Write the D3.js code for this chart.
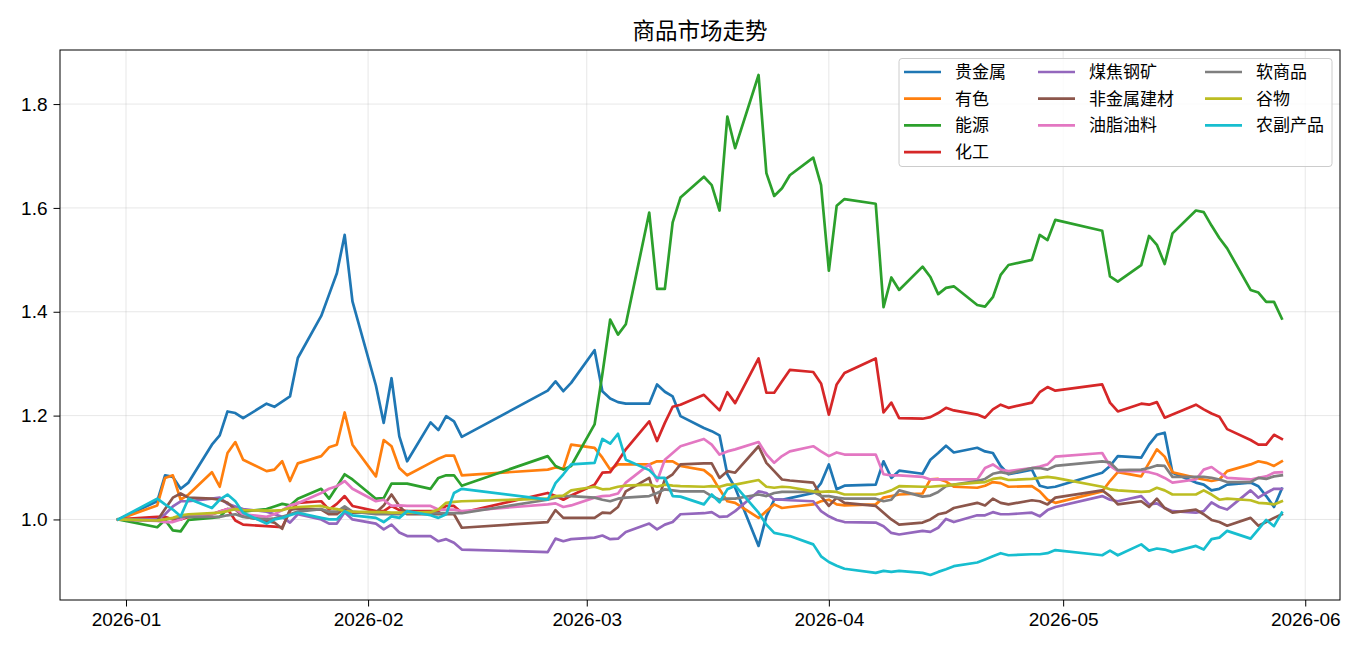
<!DOCTYPE html>
<html>
<head>
<meta charset="utf-8">
<script src="https://cdn.jsdelivr.net/npm/d3@7/dist/d3.min.js"></script>
<style>
    body { margin: 0; background: #ffffff; }
    svg { font-family: "Noto Sans CJK SC", "DejaVu Sans", sans-serif; }
</style>
</head>
<body>
<svg id="market_chart" width="1368" height="657"></svg>
<script>
// trading days
const dates = [
    '2025-12-31',
    '2026-01-05', '2026-01-06', '2026-01-07', '2026-01-08', '2026-01-09',
    '2026-01-12', '2026-01-13', '2026-01-14', '2026-01-15', '2026-01-16',
    '2026-01-19', '2026-01-20', '2026-01-21', '2026-01-22', '2026-01-23',
    '2026-01-26', '2026-01-27', '2026-01-28', '2026-01-29', '2026-01-30',
    '2026-02-02', '2026-02-03', '2026-02-04', '2026-02-05', '2026-02-06',
    '2026-02-09', '2026-02-10', '2026-02-11', '2026-02-12', '2026-02-13',
    '2026-02-24', '2026-02-25', '2026-02-26', '2026-02-27',
    '2026-03-02', '2026-03-03', '2026-03-04', '2026-03-05', '2026-03-06',
    '2026-03-09', '2026-03-10', '2026-03-11', '2026-03-12', '2026-03-13',
    '2026-03-16', '2026-03-17', '2026-03-18', '2026-03-19', '2026-03-20',
    '2026-03-23', '2026-03-24', '2026-03-25', '2026-03-26', '2026-03-27',
    '2026-03-30', '2026-03-31', '2026-04-01', '2026-04-02', '2026-04-03',
    '2026-04-07', '2026-04-08', '2026-04-09', '2026-04-10',
    '2026-04-13', '2026-04-14', '2026-04-15', '2026-04-16', '2026-04-17',
    '2026-04-20', '2026-04-21', '2026-04-22', '2026-04-23', '2026-04-24',
    '2026-04-27', '2026-04-28', '2026-04-29', '2026-04-30',
    '2026-05-06', '2026-05-07', '2026-05-08',
    '2026-05-11', '2026-05-12', '2026-05-13', '2026-05-14', '2026-05-15',
    '2026-05-18', '2026-05-19', '2026-05-20', '2026-05-21', '2026-05-22',
    '2026-05-25', '2026-05-26', '2026-05-27', '2026-05-28', '2026-05-29'
];

// 贵金属
const precious_metals = [
    1.000,
    1.035, 1.085, 1.082, 1.059, 1.071,
    1.144, 1.162, 1.208, 1.205, 1.195,
    1.223, 1.217, 1.227, 1.237, 1.311,
    1.392, 1.433, 1.474, 1.548, 1.420,
    1.258, 1.186, 1.272, 1.160, 1.112,
    1.187, 1.172, 1.199, 1.189, 1.159,
    1.248, 1.266, 1.247, 1.263,
    1.326, 1.247, 1.233, 1.226, 1.223,
    1.223, 1.260, 1.246, 1.237, 1.199,
    1.176, 1.170, 1.162, 1.087, 1.061,
    0.949, 1.006, 1.038, 1.038, 1.041,
    1.051, 1.070, 1.106, 1.058, 1.065,
    1.067, 1.112, 1.080, 1.094,
    1.088, 1.115, 1.128, 1.142, 1.129,
    1.138, 1.131, 1.128, 1.103, 1.087,
    1.096, 1.065, 1.061, 1.063,
    1.090, 1.103, 1.122,
    1.119, 1.144, 1.163, 1.167, 1.090,
    1.071, 1.067, 1.056, 1.059, 1.067,
    1.071, 1.064, 1.045, 1.024, 1.059
];

// 有色
const base_metals = [
    1.000,
    1.027, 1.080, 1.085, 1.038, 1.048,
    1.091, 1.063, 1.128, 1.149, 1.115,
    1.093, 1.096, 1.112, 1.074, 1.108,
    1.122, 1.139, 1.144, 1.206, 1.144,
    1.083, 1.153, 1.141, 1.099, 1.085,
    1.109, 1.117, 1.123, 1.123, 1.085,
    1.096, 1.100, 1.098, 1.144,
    1.138, 1.119, 1.096, 1.106, 1.106,
    1.106, 1.112, 1.112, 1.112, 1.103,
    1.095, 1.083, 1.058, 1.035, 1.032,
    1.003, 1.016, 1.029, 1.022, 1.024,
    1.029, 1.035, 1.038, 1.029, 1.027,
    1.029, 1.042, 1.045, 1.048,
    1.050, 1.077, 1.078, 1.073, 1.063,
    1.061, 1.065, 1.072, 1.070, 1.063,
    1.064, 1.054, 1.038, 1.032,
    1.054, 1.074, 1.091,
    1.083, 1.109, 1.135, 1.121, 1.091,
    1.080, 1.077, 1.074, 1.077, 1.093,
    1.106, 1.112, 1.109, 1.103, 1.112
];

// 能源
const energy = [
    1.000,
    0.985, 0.999, 0.979, 0.977, 0.999,
    1.003, 1.005, 1.020, 1.020, 1.015,
    1.020, 1.025, 1.030, 1.027, 1.040,
    1.059, 1.040, 1.063, 1.087, 1.077,
    1.040, 1.041, 1.069, 1.069, 1.069,
    1.059, 1.080, 1.085, 1.085, 1.065,
    1.122, 1.103, 1.096, 1.103,
    1.183, 1.280, 1.385, 1.356, 1.376,
    1.591, 1.444, 1.444, 1.572, 1.620,
    1.660, 1.644, 1.595, 1.776, 1.715,
    1.856, 1.667, 1.623, 1.638, 1.663,
    1.697, 1.644, 1.479, 1.604, 1.617,
    1.608, 1.409, 1.466, 1.442,
    1.487, 1.467, 1.434, 1.446, 1.449,
    1.413, 1.410, 1.428, 1.471, 1.490,
    1.500, 1.548, 1.538, 1.577,
    1.556, 1.468, 1.458,
    1.490, 1.546, 1.529, 1.492, 1.551,
    1.595, 1.592, 1.566, 1.542, 1.522,
    1.442, 1.437, 1.419, 1.419, 1.387
];

// 化工
const chemicals = [
    1.000,
    1.005, 1.005, 1.000, 1.000, 1.005,
    1.010, 1.015, 1.020, 0.998, 0.990,
    0.987, 0.986, 0.985, 1.016, 1.032,
    1.035, 1.019, 1.030, 1.045, 1.026,
    1.016, 1.016, 1.026, 1.018, 1.016,
    1.016, 1.016, 1.026, 1.026, 1.013,
    1.051, 1.045, 1.038, 1.046,
    1.067, 1.090, 1.091, 1.112, 1.135,
    1.189, 1.151, 1.186, 1.217, 1.221,
    1.240, 1.225, 1.210, 1.245, 1.224,
    1.310, 1.244, 1.244, 1.266, 1.288,
    1.284, 1.262, 1.202, 1.260, 1.282,
    1.310, 1.206, 1.225, 1.195,
    1.194, 1.197, 1.205, 1.215, 1.210,
    1.202, 1.196, 1.212, 1.221, 1.215,
    1.225, 1.245, 1.255, 1.248,
    1.260, 1.225, 1.208,
    1.223, 1.221, 1.226, 1.196, 1.202,
    1.221, 1.212, 1.204, 1.198, 1.174,
    1.153, 1.144, 1.144, 1.163, 1.155
];

// 煤焦钢矿
const ferrous = [
    1.000,
    1.000, 1.010, 1.025, 1.035, 1.035,
    1.040, 1.042, 1.030, 1.025, 1.020,
    1.015, 1.010, 1.005, 0.994, 1.010,
    1.000, 0.992, 0.992, 1.014, 1.000,
    0.992, 0.981, 0.990, 0.975, 0.968,
    0.968, 0.958, 0.962, 0.955, 0.942,
    0.937, 0.963, 0.958, 0.962,
    0.965, 0.969, 0.962, 0.963, 0.976,
    0.992, 0.981, 0.990, 0.995, 1.010,
    1.012, 1.014, 1.005, 1.006, 1.016,
    1.054, 1.051, 1.038, 1.038, 1.037,
    1.035, 1.016, 1.006, 0.999, 0.995,
    0.994, 0.987, 0.974, 0.971,
    0.978, 0.976, 0.984, 1.001, 0.995,
    1.008, 1.008, 1.014, 1.010, 1.010,
    1.013, 1.006, 1.018, 1.024,
    1.045, 1.038, 1.035,
    1.045, 1.029, 1.031, 1.022, 1.016,
    1.013, 1.016, 1.033, 1.024, 1.019,
    1.056, 1.042, 1.051, 1.059, 1.059
];

// 非金属建材
const building = [
    1.000,
    0.998, 1.020, 1.042, 1.050, 1.042,
    1.040, 1.038, 1.032, 1.019, 1.006,
    0.997, 0.994, 0.982, 1.019, 1.021,
    1.019, 1.010, 1.010, 1.022, 1.013,
    1.013, 1.027, 1.048, 1.026, 1.010,
    1.010, 1.010, 1.010, 1.010, 0.984,
    0.995, 1.018, 1.003, 1.003,
    1.003, 1.013, 1.012, 1.024, 1.054,
    1.080, 1.032, 1.077, 1.087, 1.106,
    1.108, 1.108, 1.080, 1.093, 1.090,
    1.141, 1.109, 1.093, 1.077, 1.075,
    1.071, 1.045, 1.026, 1.042, 1.032,
    1.026, 1.013, 1.000, 0.990,
    0.994, 1.000, 1.010, 1.013, 1.022,
    1.032, 1.027, 1.040, 1.032, 1.029,
    1.037, 1.035, 1.029, 1.042,
    1.056, 1.045, 1.029,
    1.035, 1.024, 1.040, 1.022, 1.013,
    1.019, 1.010, 0.999, 0.995, 0.988,
    1.003, 0.988, 0.995, 1.003, 1.010
];

// 油脂油料
const oilseeds = [
    1.000,
    0.997, 0.995, 0.995, 1.000, 1.008,
    1.010, 1.015, 1.020, 1.020, 1.010,
    1.005, 1.010, 1.018, 1.027, 1.031,
    1.051, 1.059, 1.064, 1.074, 1.059,
    1.035, 1.038, 1.026, 1.027, 1.026,
    1.026, 1.019, 1.019, 1.019, 1.016,
    1.029, 1.031, 1.024, 1.027,
    1.042, 1.045, 1.046, 1.050, 1.071,
    1.106, 1.074, 1.115, 1.128, 1.141,
    1.155, 1.144, 1.125, 1.131, 1.135,
    1.149, 1.125, 1.109, 1.122, 1.131,
    1.141, 1.131, 1.122, 1.129, 1.125,
    1.125, 1.087, 1.085, 1.085,
    1.082, 1.077, 1.077, 1.077, 1.077,
    1.077, 1.099, 1.106, 1.096, 1.093,
    1.099, 1.102, 1.106, 1.121,
    1.128, 1.103, 1.093,
    1.093, 1.091, 1.087, 1.080, 1.071,
    1.077, 1.096, 1.101, 1.090, 1.080,
    1.077, 1.080, 1.083, 1.090, 1.091
];

// 软商品
const softs = [
    1.000,
    0.998, 1.000, 1.002, 1.005, 1.005,
    1.005, 1.005, 1.008, 1.010, 1.005,
    1.000, 1.002, 1.005, 1.010, 1.015,
    1.020, 1.015, 1.015, 1.025, 1.015,
    1.010, 1.010, 1.010, 1.010, 1.012,
    1.012, 1.012, 1.012, 1.012, 1.012,
    1.038, 1.042, 1.045, 1.045,
    1.042, 1.038, 1.035, 1.040, 1.042,
    1.045, 1.051, 1.058, 1.056, 1.054,
    1.054, 1.045, 1.038, 1.040, 1.040,
    1.048, 1.045, 1.051, 1.053, 1.053,
    1.053, 1.045, 1.045, 1.042, 1.040,
    1.040, 1.035, 1.038, 1.056,
    1.044, 1.046, 1.053, 1.064, 1.067,
    1.074, 1.078, 1.088, 1.091, 1.088,
    1.099, 1.099, 1.096, 1.103,
    1.112, 1.110, 1.095,
    1.096, 1.099, 1.104, 1.103, 1.082,
    1.082, 1.082, 1.080, 1.077, 1.072,
    1.072, 1.080, 1.078, 1.083, 1.085
];

// 谷物
const grains = [
    1.000,
    0.998, 1.000, 1.003, 1.008, 1.010,
    1.012, 1.013, 1.016, 1.020, 1.018,
    1.017, 1.017, 1.018, 1.022, 1.024,
    1.026, 1.022, 1.020, 1.016, 1.015,
    1.014, 1.014, 1.013, 1.013, 1.013,
    1.014, 1.019, 1.032, 1.034, 1.035,
    1.040, 1.045, 1.046, 1.056,
    1.063, 1.058, 1.059, 1.063, 1.065,
    1.067, 1.063, 1.067, 1.065, 1.064,
    1.063, 1.064, 1.063, 1.067, 1.067,
    1.076, 1.063, 1.061, 1.063, 1.062,
    1.054, 1.053, 1.054, 1.053, 1.048,
    1.048, 1.051, 1.056, 1.064,
    1.063, 1.063, 1.064, 1.065, 1.067,
    1.071, 1.072, 1.078, 1.080, 1.076,
    1.078, 1.080, 1.082, 1.080,
    1.063, 1.058, 1.056,
    1.053, 1.054, 1.061, 1.056, 1.048,
    1.048, 1.056, 1.048, 1.038, 1.040,
    1.037, 1.032, 1.031, 1.029, 1.035
];

// 农副产品
const agri_products = [
    1.000,
    1.040, 1.029, 1.019, 1.006, 1.040,
    1.022, 1.038, 1.048, 1.035, 1.013,
    0.992, 1.000, 1.003, 1.008, 1.013,
    1.003, 1.000, 1.000, 1.016, 1.008,
    1.003, 0.995, 1.006, 1.003, 1.016,
    1.008, 1.003, 1.010, 1.051, 1.059,
    1.038, 1.070, 1.087, 1.106,
    1.109, 1.155, 1.146, 1.165, 1.115,
    1.095, 1.080, 1.080, 1.045, 1.044,
    1.029, 1.048, 1.033, 1.058, 1.065,
    1.013, 0.990, 0.974, 0.971, 0.968,
    0.952, 0.929, 0.918, 0.911, 0.905,
    0.897, 0.901, 0.899, 0.901,
    0.897, 0.893, 0.899, 0.904, 0.910,
    0.917, 0.923, 0.929, 0.935, 0.931,
    0.933, 0.933, 0.935, 0.941,
    0.931, 0.940, 0.931,
    0.952, 0.940, 0.944, 0.942, 0.937,
    0.949, 0.942, 0.962, 0.965, 0.978,
    0.963, 0.981, 0.999, 0.987, 1.013
];

const series_names = ['贵金属', '有色', '能源', '化工', '煤焦钢矿', '非金属建材', '油脂油料', '软商品', '谷物', '农副产品'];
const series_values = [precious_metals, base_metals, energy, chemicals, ferrous, building, oilseeds, softs, grains, agri_products];
const series_colors = ['#1f77b4', '#ff7f0e', '#2ca02c', '#d62728', '#9467bd', '#8c564b', '#e377c2', '#7f7f7f', '#bcbd22', '#17becf'];

const y_tick_values = [1.0, 1.2, 1.4, 1.6, 1.8];
const x_tick_labels = ['2026-01', '2026-02', '2026-03', '2026-04', '2026-05', '2026-06'];
const chart_title = '商品市场走势';

(() => {

    // chart frame
    const plot_left = 60, plot_right = 1340, plot_top = 50, plot_bottom = 600;
    const line_width = 2.7;
    const tick_len = 6.5;

    let svg = d3.select('#market_chart');
    let parse_date = d3.timeParse('%Y-%m-%d');
    let parse_month = d3.timeParse('%Y-%m');
    let parsed_dates = dates.map(parse_date);

    let series = series_names.map((name, i) => ({
        name: name,
        color: series_colors[i],
        points: parsed_dates.map((d, j) => ({ date: d, value: series_values[i][j] }))
    }));

    // matplotlib style 5% margins
    let date_extent = d3.extent(parsed_dates);
    let date_pad = (date_extent[1] - date_extent[0]) * 0.05;
    let x_scale = d3.scaleTime()
        .domain([new Date(+date_extent[0] - date_pad), new Date(+date_extent[1] + date_pad)])
        .range([plot_left, plot_right]);

    let all_values = series_values.flat();
    let v_min = d3.min(all_values), v_max = d3.max(all_values);
    let v_pad = (v_max - v_min) * 0.05;
    let y_scale = d3.scaleLinear()
        .domain([v_min - v_pad, v_max + v_pad])
        .range([plot_bottom, plot_top]);

    let x_ticks = x_tick_labels.map(parse_month);

    // grid
    let grid = svg.append('g');
    grid.selectAll('.vgrid')
        .data(x_ticks)
        .enter()
        .append('line')
        .attr('x1', (d) => x_scale(d))
        .attr('x2', (d) => x_scale(d))
        .attr('y1', plot_top)
        .attr('y2', plot_bottom)
        .style('stroke', '#b0b0b0')
        .style('stroke-opacity', 0.3)
        .style('stroke-width', 1);

    grid.selectAll('.hgrid')
        .data(y_tick_values)
        .enter()
        .append('line')
        .attr('x1', plot_left)
        .attr('x2', plot_right)
        .attr('y1', (d) => y_scale(d))
        .attr('y2', (d) => y_scale(d))
        .style('stroke', '#b0b0b0')
        .style('stroke-opacity', 0.3)
        .style('stroke-width', 1);

    // lines
    let line = d3.line()
        .x((d) => x_scale(d.date))
        .y((d) => y_scale(d.value));

    svg.append('g')
        .selectAll('path')
        .data(series)
        .enter()
        .append('path')
        .attr('d', (d) => line(d.points))
        .style('fill', 'none')
        .style('stroke', (d) => d.color)
        .style('stroke-width', line_width)
        .style('stroke-linejoin', 'round')
        .style('stroke-linecap', 'square');

    // axes
    let x_axis = d3.axisBottom(x_scale)
        .tickValues(x_ticks)
        .tickFormat(d3.timeFormat('%Y-%m'))
        .tickSizeInner(tick_len)
        .tickSizeOuter(0)
        .tickPadding(6);

    let y_axis = d3.axisLeft(y_scale)
        .tickValues(y_tick_values)
        .tickFormat(d3.format('.1f'))
        .tickSizeInner(tick_len)
        .tickSizeOuter(0)
        .tickPadding(6);

    svg.append('g')
        .attr('transform', `translate(0, ${plot_bottom})`)
        .call(x_axis)
        .call((g) => g.select('.domain').remove())
        .selectAll('text')
        .style('font-size', '19px')
        .style('fill', '#000');

    svg.append('g')
        .attr('transform', `translate(${plot_left}, 0)`)
        .call(y_axis)
        .call((g) => g.select('.domain').remove())
        .selectAll('text')
        .style('font-size', '19px')
        .style('fill', '#000');

    svg.selectAll('.tick line').style('stroke', '#000').style('stroke-width', 1);

    // frame
    svg.append('rect')
        .attr('x', plot_left)
        .attr('y', plot_top)
        .attr('width', plot_right - plot_left)
        .attr('height', plot_bottom - plot_top)
        .style('fill', 'none')
        .style('stroke', '#000')
        .style('stroke-width', 1);

    // title
    svg.append('text')
        .attr('x', (plot_left + plot_right) / 2)
        .attr('y', plot_top - 11)
        .text(chart_title)
        .style('font-size', '22.5px')
        .style('fill', '#000')
        .style('text-anchor', 'middle');

    // legend, 3 columns filled top-down as 4 / 3 / 3
    const col_sizes = [4, 3, 3];
    const col_x = [904, 1038, 1205];
    const row_h = 26.7;
    let legend_pos = [];
    col_sizes.forEach((n, c) => {
        for (let r = 0; r < n; r++) legend_pos.push({ col: c, row: r });
    });

    let legend = svg.append('g');

    legend.append('rect')
        .attr('x', 899)
        .attr('y', 58.5)
        .attr('width', 433)
        .attr('height', 108)
        .attr('rx', 3)
        .style('fill', '#ffffff')
        .style('fill-opacity', 0.8)
        .style('stroke', '#cccccc')
        .style('stroke-width', 1);

    let entries = legend.selectAll('.entry')
        .data(series)
        .enter()
        .append('g')
        .attr('transform', (d, i) => `translate(${col_x[legend_pos[i].col]}, ${72 + legend_pos[i].row * row_h})`);

    entries.append('line')
        .attr('x1', 0)
        .attr('x2', 37)
        .style('stroke', (d) => d.color)
        .style('stroke-width', line_width);

    entries.append('text')
        .attr('x', 51)
        .attr('dy', '0.35em')
        .text((d) => d.name)
        .style('font-size', '17px')
        .style('fill', '#000');

})();
</script>
</body>
</html>
